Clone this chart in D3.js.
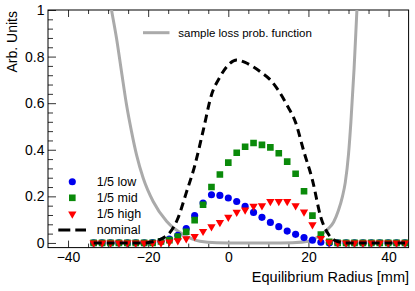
<!DOCTYPE html>
<html>
<head>
<meta charset="utf-8">
<script src="https://cdn.jsdelivr.net/npm/d3@7"></script>
<style>
  body { margin: 0; background: #fff; }
  svg { font-family: "Liberation Sans", Arial, Helvetica, sans-serif; }
  .tick text { font-size: 14px; fill: #000; }
  .tick line { stroke: #333; }
</style>
</head>
<body>
<svg id="chart" width="415" height="291"></svg>
<script>
// DATA: bin centres (mm) and the series
const radius = [-33.6, -31.5, -29.4, -27.3, -25.2, -23.1, -21.0, -18.9, -16.8, -14.7,
                -12.6, -10.5, -8.4, -6.3, -4.2, -2.1, 0, 2.1, 4.2, 6.3,
                8.4, 10.5, 12.6, 14.7, 16.8, 18.9, 21.0, 23.1, 25.2, 27.3,
                29.4, 31.5, 33.6, 35.7, 37.8, 39.9, 42.0, 44.1];

const lowFifth = [0, 0, 0, 0, 0, 0, 0, 0.002, 0.007, 0.017,
                  0.033, 0.062, 0.117, 0.171, 0.207, 0.204, 0.193, 0.178, 0.157, 0.131,
                  0.110, 0.088, 0.070, 0.051, 0.037, 0.023, 0.012, 0.003, 0, 0,
                  0, 0, 0, 0, 0, 0, 0, 0];

const midFifth = [0, 0, 0, 0, 0, 0, 0, 0, 0.006, 0.012,
                  0.027, 0.048, 0.098, 0.164, 0.240, 0.294, 0.345, 0.387, 0.413, 0.429,
                  0.421, 0.410, 0.385, 0.349, 0.297, 0.222, 0.117, 0.036, 0.005, 0,
                  0, 0, 0, 0, 0, 0, 0, 0];

const highFifth = [0, 0, 0, 0, 0, 0, 0, 0, 0, 0.004,
                   0.010, 0.018, 0.028, 0.050, 0.070, 0.088, 0.111, 0.132, 0.142, 0.158,
                   0.160, 0.178, 0.178, 0.178, 0.160, 0.133, 0.078, 0.020, 0.003, 0,
                   0, 0, 0, 0, 0, 0, 0, 0];

const nominal = [0, 0, 0, 0, 0, 0, 0, 0.005, 0.017, 0.042,
                 0.105, 0.215, 0.33, 0.48, 0.635, 0.712, 0.764, 0.785, 0.775, 0.755,
                 0.73, 0.70, 0.652, 0.59, 0.517, 0.39, 0.27, 0.11, 0.032, 0.006,
                 0, 0, 0, 0, 0, 0, 0, 0];

// loss probability curve (its own sample points)
const lossX = [-31, -29.15, -27.9, -26.65, -25.4, -24.15, -22.9, -21.25, -18.75, -15.4,
               -11.25, -7.1, -2.9, 3, 10, 16, 20.4, 22, 23.5, 25,
               26.3, 27.5, 28.5, 29.2, 30, 30.6, 31.4, 32.1, 33];
const lossY = [1.18, 1.0, 0.879, 0.735, 0.593, 0.478, 0.378, 0.279, 0.178, 0.093,
               0.036, 0.007, 0.001, 0, 0, 0.001, 0.008, 0.022, 0.04, 0.062,
               0.09, 0.14, 0.2, 0.26, 0.38, 0.52, 0.75, 1.0, 1.3];

const xTicks = [-40, -20, 0, 20, 40];
const yTicks = [0, 0.2, 0.4, 0.6, 0.8, 1];

// SETUP
const svg = d3.select("#chart");
const frame = { left: 48, right: 408.6, top: 10, bottom: 247.6 };

const x = d3.scaleLinear().domain([-45, 45]).range([frame.left, frame.right]);
const y = d3.scaleLinear().domain([-0.02, 1]).range([frame.bottom, frame.top]);

svg.append("clipPath").attr("id", "clip")
  .append("rect")
  .attr("x", frame.left).attr("y", frame.top)
  .attr("width", frame.right - frame.left).attr("height", frame.bottom - frame.top);

// AXES (ticks pointing inwards)
const xMinor = d3.range(-45, 46, 5).filter(v => v % 20 !== 0 && Math.abs(v) < 45);
const yMinor = d3.range(0, 1.001, 0.04).filter(v => Math.abs(v * 5 - Math.round(v * 5)) > 1e-6);

function axisGroup(axis, tx, ty) {
  const g = svg.append("g").attr("transform", `translate(${tx},${ty})`).call(axis);
  g.select(".domain").remove();
  return g;
}

axisGroup(d3.axisBottom(x).tickValues(xTicks).tickSizeInner(-7).tickSizeOuter(0)
  .tickPadding(4.5).tickFormat(d3.format("d")), 0, frame.bottom);
axisGroup(d3.axisBottom(x).tickValues(xMinor).tickSizeInner(-4).tickFormat(""), 0, frame.bottom);
axisGroup(d3.axisTop(x).tickValues(xTicks).tickSizeInner(-7).tickFormat(""), 0, frame.top);
axisGroup(d3.axisTop(x).tickValues(xMinor).tickSizeInner(-4).tickFormat(""), 0, frame.top);

axisGroup(d3.axisLeft(y).tickValues(yTicks).tickSizeInner(-8).tickSizeOuter(0)
  .tickPadding(3.5).tickFormat(d3.format("~g")), frame.left, 0);
axisGroup(d3.axisLeft(y).tickValues(yMinor).tickSizeInner(-5).tickFormat(""), frame.left, 0);

// frame
svg.append("rect")
  .attr("x", frame.left).attr("y", frame.top)
  .attr("width", frame.right - frame.left).attr("height", frame.bottom - frame.top)
  .attr("fill", "none").attr("stroke", "#000").attr("stroke-width", 1);

// PLOT
const plot = svg.append("g").attr("clip-path", "url(#clip)");

// loss probability function
const lossPts = lossX.map((v, i) => [v, lossY[i]]);
plot.append("path")
  .datum(lossPts)
  .attr("d", d3.line().x(d => x(d[0])).y(d => y(d[1])).curve(d3.curveMonotoneX))
  .attr("fill", "none")
  .attr("stroke", "#aaaaaa")
  .attr("stroke-width", 3);

// markers
const series = [
  { values: lowFifth, color: "#0000ee", shape: d3.symbolCircle, size: 40, rot: 0 },
  { values: midFifth, color: "#0a8a0a", shape: d3.symbolSquare, size: 44, rot: 0 },
  { values: highFifth, color: "#ff0000", shape: d3.symbolTriangle, size: 30, rot: 180 }
];

series.forEach(s => {
  plot.append("g").selectAll("path")
    .data(radius.map((r, i) => [r, s.values[i]]))
    .join("path")
    .attr("transform", d => `translate(${x(d[0])},${y(d[1])}) rotate(${s.rot})`)
    .attr("d", d3.symbol().type(s.shape).size(s.size))
    .attr("fill", s.color);
});

// nominal
plot.append("path")
  .datum(radius.map((r, i) => [r, nominal[i]]))
  .attr("d", d3.line().x(d => x(d[0])).y(d => y(d[1])).curve(d3.curveMonotoneX))
  .attr("fill", "none")
  .attr("stroke", "#000")
  .attr("stroke-width", 3)
  .attr("stroke-dasharray", "8,5");

// LEGENDS
// top legend
svg.append("line")
  .attr("x1", 143).attr("x2", 169.5).attr("y1", 32.7).attr("y2", 32.7)
  .attr("stroke", "#aaaaaa").attr("stroke-width", 3);
svg.append("text")
  .attr("x", 178.3).attr("y", 32.7).attr("dy", "0.35em")
  .style("font-size", "11.5px")
  .text("sample loss prob. function");

// bottom-left legend
const legendRows = [
  { label: "1/5 low", s: series[0] },
  { label: "1/5 mid", s: series[1] },
  { label: "1/5 high", s: series[2] },
  { label: "nominal", s: null }
];
legendRows.forEach((row, i) => {
  const ly = 181.7 + i * 16.1;
  if (row.s) {
    svg.append("path")
      .attr("transform", `translate(72.3,${ly}) rotate(${row.s.rot})`)
      .attr("d", d3.symbol().type(row.s.shape).size(row.s.size))
      .attr("fill", row.s.color);
  } else {
    svg.append("line")
      .attr("x1", 58.3).attr("x2", 86).attr("y1", ly).attr("y2", ly)
      .attr("stroke", "#000").attr("stroke-width", 3)
      .attr("stroke-dasharray", "12,5");
  }
  svg.append("text")
    .attr("x", 96.7).attr("y", ly).attr("dy", "0.35em")
    .style("font-size", "12.5px")
    .text(row.label);
});

// AXIS TITLES
svg.append("text")
  .attr("x", 409).attr("y", 282)
  .attr("text-anchor", "end")
  .style("font-size", "14.5px")
  .text("Equilibrium Radius [mm]");

svg.append("text")
  .attr("transform", "translate(16.7,11) rotate(-90)")
  .attr("text-anchor", "end")
  .style("font-size", "14px")
  .text("Arb. Units");
</script>
</body>
</html>
